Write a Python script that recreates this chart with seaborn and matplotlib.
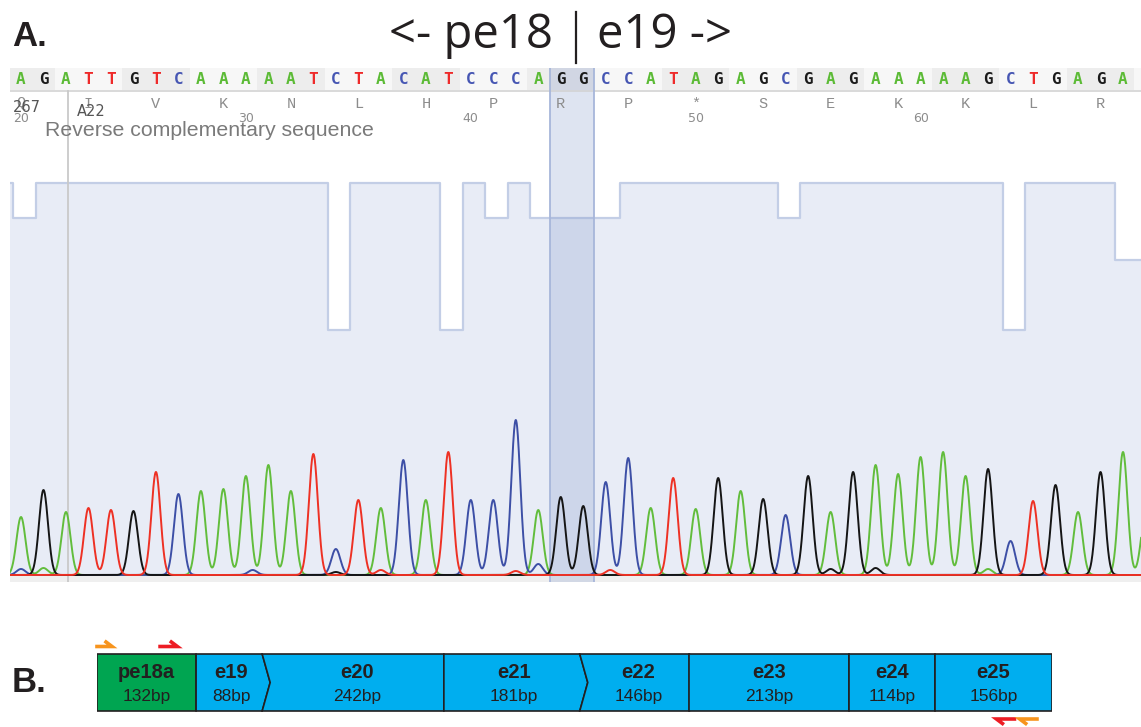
import numpy as np
import pandas as pd
import seaborn as sns
import matplotlib
matplotlib.use("Agg")
import matplotlib.pyplot as plt
from matplotlib.patches import Polygon
from matplotlib.lines import Line2D

# ---------------- data ----------------
bases = list("AGATTGTCAAAAATCTACATCCCAGGCCATAGAGCGAGAAAAAGCTGAGAA")
peak_heights = [58, 85, 63, 67, 65, 64, 103, 81, 84, 86,
                99, 110, 84, 121, 26, 75, 67, 115, 75, 123,
                75, 75, 155, 65, 78, 69, 93, 117, 67, 97,
                66, 97, 84, 76, 60, 99, 63, 103, 110, 101,
                118, 123, 99, 106, 34, 74, 90, 63, 103, 123, 60]
# small secondary peaks: (base position, channel, height)
minor_pos = [0.0, 1.0, 10.3, 16.0, 22.0, 23.0, 26.2, 36.0, 38.0, 43.0, 14.0]
minor_base = ["C", "A", "C", "T", "T", "C", "T", "G", "G", "A", "G"]
minor_height = [6, 7, 5, 5, 4, 11, 5, 6, 7, 6, 3]

amino_acids = list("QIVKNLHPRP*SEKKLR")
ruler_numbers = [20, 30, 40, 50, 60]
first_number = 20

# quality per base, base index -1 .. 50
quality = [56, 51] + [56] * 13 + [35] + [56] * 4 + [35, 56, 51, 56] + [51] * 4 + \
          [56] * 7 + [51] + [56] * 9 + [35] + [56] * 4 + [45, 45]
quality_idx = list(range(-1, 51))

highlight = (24, 25)      # bases GG at the junction
marker_base = 2           # A22 cursor

exon_names = ["pe18a", "e19", "e20", "e21", "e22", "e23", "e24", "e25"]
exon_bp = [132, 88, 242, 181, 146, 213, 114, 156]
exon_chevron_after = [False, True, False, True, False, False, False]
fwd_primers = [(0, 20, "#f7941d"), (84, 107, "#ed1c24")]
rev_primers = [(1198, 1222, "#ed1c24"), (1229, 1252, "#f7941d")]

trace_colors = {"A": "#62bd3c", "C": "#3d4fa6", "G": "#151515", "T": "#ee3124"}
letter_colors = {"A": "#5cbb36", "C": "#4656b3", "G": "#1a1a1a", "T": "#ee2a2a"}

# ---------------- figure ----------------
W, H = 1141, 727
fig = plt.figure(figsize=(W / 100, H / 100), dpi=100)


def px_axes(x0, y0, x1, y1, **kw):
    return fig.add_axes([x0 / W, 1 - y1 / H, (x1 - x0) / W, (y1 - y0) / H], **kw)


XL = (-0.489, 49.80)
q_shift = 0.15  # quality bars are drawn slightly right of the base calls

# quality panel
ax_q = px_axes(10, 140, 1141, 575)
ax_q.set_xlim(*XL)
ax_q.set_ylim(0, 62.14)
qx = np.array(quality_idx) + q_shift
ax_q.fill_between(qx, quality, 0, step="mid", color="#e8ecf6", lw=0)
ax_q.step(qx, quality, where="mid", color="#c3cee6", lw=1.6)
ax_q.axis("off")

# chromatogram traces
sigma = 0.2
xs = np.linspace(-1.0, 51.0, 5000)
rows = []
for ch in ["A", "C", "G", "T"]:
    sig = np.zeros_like(xs)
    for i, (b, h) in enumerate(zip(bases, peak_heights)):
        if b == ch:
            sig += h * 10 * np.exp(-0.5 * ((xs - i) / sigma) ** 2)
    for p, b, h in zip(minor_pos, minor_base, minor_height):
        if b == ch:
            sig += h * 10 * np.exp(-0.5 * ((xs - p) / sigma) ** 2)
    rows.append(pd.DataFrame({"pos": xs, "signal": sig, "base": ch}))
df = pd.concat(rows, ignore_index=True)

ax_c = px_axes(10, 140, 1141, 582)
ax_c.patch.set_alpha(0)
ax_c.set_xlim(*XL)
ax_c.set_ylim(-70, 4350)
ax_c.axhspan(-70, 0, color="#efefef", lw=0, zorder=0)
ax_c.axvspan(highlight[0] - 0.5, highlight[1] + 0.5, color="#7f95c8", alpha=0.25, lw=0, zorder=0.5)
for e in (highlight[0] - 0.5, highlight[1] + 0.5):
    ax_c.axvline(e, color="#a7b6da", lw=1.3, zorder=0.6)
ax_c.axvline(marker_base + 0.08, color="#c9c9c9", lw=1.3, zorder=0.6)
sns.lineplot(data=df, x="pos", y="signal", hue="base", palette=trace_colors,
             hue_order=["A", "C", "G", "T"], estimator=None, sort=False,
             legend=False, linewidth=1.4, ax=ax_c, zorder=2)
ax_c.axis("off")

# sequence bar + ruler
ax_t = px_axes(10, 68, 1141, 140)
ax_t.set_xlim(*XL)
ax_t.set_ylim(140, 68)
codon_centers = [3 * k for k in range(-1, 18)]
codon_cols = ["#ededed" if k % 2 == 0 else "#f7f7f7" for k in range(-1, 18)]
ax_t.bar(codon_centers, 22, bottom=68, width=3, color=codon_cols, lw=0)
ax_t.axhline(90.5, color="#d3d3d3", lw=1.2)
ax_t.axvspan(highlight[0] - 0.5, highlight[1] + 0.5, color="#7f95c8", alpha=0.25, lw=0)
for e in (highlight[0] - 0.5, highlight[1] + 0.5):
    ax_t.axvline(e, color="#a7b6da", lw=1.3)
ax_t.axvline(marker_base + 0.08, ymin=0, ymax=(140 - 91) / 72, color="#c9c9c9", lw=1.3)
for i, b in enumerate(bases):
    ax_t.text(i, 79.5, b, color=letter_colors[b], ha="center", va="center",
              fontsize=11.5, fontweight="bold", family="DejaVu Sans Mono", clip_on=True)
for k, aa in enumerate(amino_acids):
    ax_t.text(3 * k, 103.5, aa, color="#8c8c8c", ha="center", va="center",
              fontsize=11, family="Liberation Mono")
for n in ruler_numbers:
    ax_t.text(n - first_number, 118.5, str(n), color="#8c8c8c", ha="center", va="center",
              fontsize=9, family="DejaVu Sans")
ax_t.axis("off")

fig.text(27 / W, 1 - 108 / H, "267", color="#555555", ha="center", va="center",
         fontsize=10.5, family="DejaVu Sans")
fig.text(91 / W, 1 - 112 / H, "A22", color="#555555", ha="center", va="center",
         fontsize=10.5, family="DejaVu Sans")
fig.text(45 / W, 1 - 131 / H, "Reverse complementary sequence", color="#7a7a7a",
         ha="left", va="center", fontsize=15.3, family="Liberation Sans")

# titles
fig.text(12 / W, 1 - 36 / H, "A.", fontsize=25, fontweight="bold", va="center",
         family="Liberation Sans", color="#231f20")
fig.text(553 / W, 1 - 35 / H, "<- pe18", fontsize=34, ha="right", va="center",
         family="Open Sans", color="#231f20")
fig.text(597 / W, 1 - 35 / H, "e19 ->", fontsize=34, ha="left", va="center",
         family="Open Sans", color="#231f20")
fig.add_artist(Line2D([576 / W, 576 / W], [1 - 12 / H, 1 - 63 / H], color="#231f20", lw=1.6))
fig.text(12 / W, 1 - 682 / H, "B.", fontsize=25, fontweight="bold", va="center",
         family="Liberation Sans", color="#231f20")

# exon diagram
ax_b = px_axes(97, 630, 1052, 727)
total = sum(exon_bp)
ax_b.set_xlim(0, total)
ax_b.set_ylim(727, 630)
top, bot = 654, 711
mid = (top + bot) / 2
chev = 8 / (955 / total)
starts = np.concatenate([[0], np.cumsum(exon_bp)[:-1]])
for i, (name, bp, L) in enumerate(zip(exon_names, exon_bp, starts)):
    R = L + bp
    left_chev = i > 0 and exon_chevron_after[i - 1]
    right_chev = i < len(exon_bp) - 1 and exon_chevron_after[i]
    pts = [(L, top), (R, top)]
    if right_chev:
        pts.append((R + chev, mid))
    pts += [(R, bot), (L, bot)]
    if left_chev:
        pts.append((L + chev, mid))
    col = "#00a551" if i == 0 else "#00aeef"
    ax_b.add_patch(Polygon(pts, closed=True, facecolor=col, edgecolor="#231f20", lw=1.2))
    cx = (L + R) / 2 + (chev / 2 if left_chev else 0) + (chev / 4 if right_chev else 0)
    ax_b.text(cx, 673, name, ha="center", va="center", fontsize=14.5, fontweight="bold",
              family="Liberation Sans", color="#231f20")
    ax_b.text(cx, 696, f"{bp}bp", ha="center", va="center", fontsize=12.5,
              family="Liberation Sans", color="#231f20")
barb = 8
for a, b, c in fwd_primers:
    ax_b.plot([a, b, b - barb], [646.5, 646.5, 642], color=c, lw=2.6,
              solid_joinstyle="miter", clip_on=False)
for a, b, c in rev_primers:
    ax_b.plot([b, a, a + barb], [719, 719, 723.5], color=c, lw=2.6,
              solid_joinstyle="miter", clip_on=False)
ax_b.axis("off")

fig.savefig("out.png", dpi=100)
